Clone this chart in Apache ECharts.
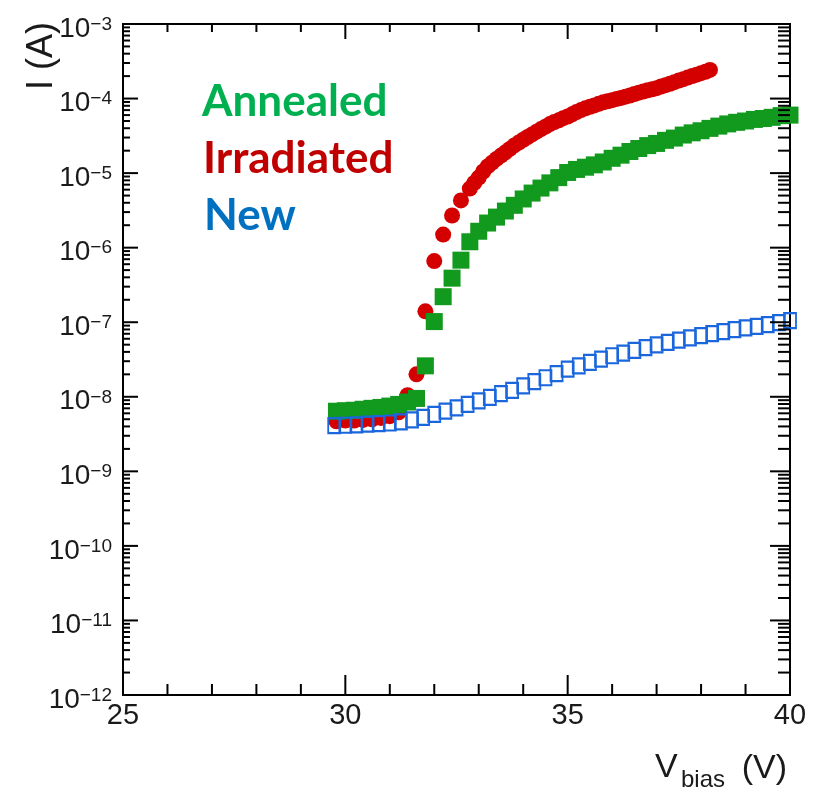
<!DOCTYPE html>
<html>
<head>
<meta charset="utf-8">
<script src="https://cdn.jsdelivr.net/npm/echarts@6/dist/echarts.min.js"></script>
<style>
  html, body { margin: 0; padding: 0; background: #fff; }
  #chart { width: 817px; height: 796px; }
</style>
</head>
<body>
<div id="chart"></div>
<script>
// Bias voltage (V) for the irradiated sweep: 0.2 V steps, then 0.1 V steps above breakdown
const vIrradiated = [29.8, 30.0, 30.2, 30.4, 30.6, 30.8, 31.0, 31.2, 31.4, 31.6, 31.8, 32.0, 32.2, 32.4, 32.6,
  32.8, 32.9, 33.0, 33.1, 33.2, 33.3, 33.4, 33.5, 33.6, 33.7, 33.8, 33.9, 34.0, 34.1, 34.2, 34.3,
  34.4, 34.5, 34.6, 34.7, 34.8, 34.9, 35.0, 35.1, 35.2, 35.3, 35.4, 35.5, 35.6, 35.7, 35.8, 35.9,
  36.0, 36.1, 36.2, 36.3, 36.4, 36.5, 36.6, 36.7, 36.8, 36.9, 37.0, 37.1, 37.2, 37.3, 37.4, 37.5,
  37.6, 37.7, 37.8, 37.9, 38.0, 38.1, 38.2];
// Leakage current (A), irradiated sensor
const iIrradiated = [4.7e-9, 4.8e-9, 4.8e-9, 4.9e-9, 5.0e-9, 5.2e-9, 5.5e-9, 6.2e-9, 1.05e-8, 2.0e-8, 1.4e-7, 6.6e-7, 1.5e-6, 2.7e-6, 4.3e-6,
  6.2e-6, 7.4e-6, 8.7e-6, 1.05e-5, 1.23e-5, 1.38e-5, 1.55e-5, 1.72e-5, 1.9e-5, 2.11e-5, 2.35e-5, 2.57e-5, 2.8e-5, 3.05e-5, 3.3e-5, 3.6e-5,
  3.9e-5, 4.2e-5, 4.55e-5, 4.85e-5, 5.1e-5, 5.45e-5, 5.75e-5, 6.15e-5, 6.6e-5, 7.0e-5, 7.4e-5, 7.75e-5, 8.1e-5, 8.5e-5, 8.9e-5, 9.2e-5,
  9.5e-5, 9.9e-5, 1.02e-4, 1.06e-4, 1.1e-4, 1.15e-4, 1.2e-4, 1.24e-4, 1.29e-4, 1.33e-4, 1.38e-4, 1.45e-4, 1.51e-4, 1.58e-4, 1.66e-4, 1.74e-4,
  1.82e-4, 1.91e-4, 2.0e-4, 2.09e-4, 2.19e-4, 2.29e-4, 2.42e-4];

const vAnnealed = [29.8, 30.0, 30.2, 30.4, 30.6, 30.8, 31.0, 31.2, 31.4, 31.6, 31.8, 32.0, 32.2, 32.4, 32.6, 32.8,
  33.0, 33.2, 33.4, 33.6, 33.8, 34.0, 34.2, 34.4, 34.6, 34.8, 35.0, 35.2, 35.4, 35.6, 35.8, 36.0,
  36.2, 36.4, 36.6, 36.8, 37.0, 37.2, 37.4, 37.6, 37.8, 38.0, 38.2, 38.4, 38.6, 38.8, 39.0, 39.2,
  39.4, 39.6, 39.8, 40.0];
// Leakage current (A), annealed sensor
const iAnnealed = [6.4e-9, 6.5e-9, 6.6e-9, 6.8e-9, 7.0e-9, 7.2e-9, 7.5e-9, 7.9e-9, 8.5e-9, 9.5e-9, 2.6e-8, 1.02e-7, 2.2e-7, 3.9e-7, 6.8e-7, 1.2e-6,
  1.66e-6, 2.14e-6, 2.57e-6, 3.1e-6, 3.7e-6, 4.5e-6, 5.4e-6, 6.3e-6, 7.4e-6, 8.7e-6, 1.02e-5, 1.12e-5, 1.2e-5, 1.29e-5, 1.41e-5, 1.58e-5,
  1.74e-5, 1.95e-5, 2.14e-5, 2.34e-5, 2.5e-5, 2.75e-5, 2.95e-5, 3.24e-5, 3.47e-5, 3.7e-5, 3.98e-5, 4.27e-5, 4.57e-5, 4.8e-5, 5.0e-5, 5.25e-5,
  5.4e-5, 5.6e-5, 5.9e-5, 6.0e-5];

const vNew = [29.75, 30.0, 30.25, 30.5, 30.75, 31.0, 31.25, 31.5, 31.75, 32.0, 32.25, 32.5, 32.75, 33.0,
  33.25, 33.5, 33.75, 34.0, 34.25, 34.5, 34.75, 35.0, 35.25, 35.5, 35.75, 36.0, 36.25, 36.5,
  36.75, 37.0, 37.25, 37.5, 37.75, 38.0, 38.25, 38.5, 38.75, 39.0, 39.25, 39.5, 39.75, 40.0];
// Leakage current (A), new sensor
const iNew = [4.1e-9, 4.15e-9, 4.2e-9, 4.3e-9, 4.35e-9, 4.45e-9, 4.6e-9, 4.9e-9, 5.3e-9, 5.8e-9, 6.4e-9, 7.1e-9, 7.9e-9, 8.8e-9,
  9.8e-9, 1.1e-8, 1.22e-8, 1.4e-8, 1.6e-8, 1.8e-8, 2.05e-8, 2.35e-8, 2.6e-8, 2.9e-8, 3.2e-8, 3.55e-8, 3.85e-8, 4.2e-8,
  4.55e-8, 4.95e-8, 5.35e-8, 5.75e-8, 6.15e-8, 6.6e-8, 7.05e-8, 7.5e-8, 7.95e-8, 8.4e-8, 8.8e-8, 9.3e-8, 9.9e-8, 1.05e-7];

// Axis ticks
const xMajorTicks = [25, 30, 35, 40];
const xMinorTicks = [26, 27, 28, 29, 31, 32, 33, 34, 36, 37, 38, 39];
const yDecades = [1e-12, 1e-11, 1e-10, 1e-9, 1e-8, 1e-7, 1e-6, 1e-5, 1e-4, 1e-3];
const yMinorSteps = [2, 3, 4, 5, 6, 7, 8, 9];

const seriesNames = ['Annealed', 'Irradiated', 'New'];

function zip(xs, ys) { return xs.map((x, i) => [x, ys[i]]); }

// Tick list: [x, y, axis (0 = x, 1 = y), major (1) / minor (0)]
const tickItems = [];
xMajorTicks.forEach(v => tickItems.push([v, 1e-12, 0, 1]));
xMinorTicks.forEach(v => tickItems.push([v, 1e-12, 0, 0]));
yDecades.forEach((d, k) => {
  tickItems.push([25, d, 1, 1]);
  if (k < yDecades.length - 1) yMinorSteps.forEach(m => tickItems.push([25, d * m, 1, 0]));
});

const chart = echarts.init(document.getElementById('chart'), null, { renderer: 'canvas' });
const FONT = 'Liberation Sans, Arial, sans-serif';
const LABEL_FONT = 'bold 44px Lato, "Open Sans", sans-serif';

chart.setOption({
  backgroundColor: '#ffffff',
  animation: false,
  grid: { left: 123, right: 27, top: 24, bottom: 101, show: true, borderColor: '#000', borderWidth: 2, backgroundColor: 'transparent' },
  xAxis: {
    type: 'value', min: 25, max: 40, interval: 5,
    axisLine: { show: false }, axisTick: { show: false }, splitLine: { show: false },
    axisLabel: { fontFamily: FONT, fontSize: 29, color: '#1a1a1a', margin: 6 }
  },
  yAxis: {
    type: 'log', logBase: 10, min: 1e-12, max: 1e-3, interval: 1,
    axisLine: { show: false }, axisTick: { show: false }, splitLine: { show: false },
    axisLabel: {
      margin: 11,
      padding: [10, 0, 0, 0],
      formatter: v => {
        const e = Math.round(Math.log10(v));
        return '{b|10}{s|\u2212' + Math.abs(e) + '}';
      },
      rich: {
        b: { fontFamily: FONT, fontSize: 28, color: '#1a1a1a', lineHeight: 28 },
        s: { fontFamily: FONT, fontSize: 19, color: '#1a1a1a', verticalAlign: 'top', lineHeight: 19 }
      }
    }
  },
  graphic: [
    { type: 'text', left: 202, top: 80, style: { text: seriesNames[0], font: LABEL_FONT, fill: '#00b050' } },
    { type: 'text', left: 203, top: 137, style: { text: seriesNames[1], font: LABEL_FONT, fill: '#c00000' } },
    { type: 'text', left: 204, top: 194, style: { text: seriesNames[2], font: LABEL_FONT, fill: '#0070c0' } },
    { type: 'text', x: 42, y: 56, rotation: Math.PI / 2, style: { text: 'I (A)', font: '36px ' + FONT, fill: '#1a1a1a', align: 'center', verticalAlign: 'middle' } },
    { type: 'text', x: 655, y: 768, style: { text: 'V', font: '34px ' + FONT, fill: '#1a1a1a', align: 'left', verticalAlign: 'middle' } },
    { type: 'text', x: 681, y: 780, style: { text: 'bias', font: '24px ' + FONT, fill: '#1a1a1a', align: 'left', verticalAlign: 'middle' } },
    { type: 'text', x: 787, y: 769, style: { text: '(V)', font: '34px ' + FONT, fill: '#1a1a1a', align: 'right', verticalAlign: 'middle' } }
  ],
  series: [
    {
      name: seriesNames[1], type: 'scatter', data: zip(vIrradiated, iIrradiated),
      symbol: 'circle', symbolSize: 16, itemStyle: { color: '#d40000', opacity: 1 }, z: 2
    },
    {
      name: seriesNames[0], type: 'scatter', data: zip(vAnnealed, iAnnealed),
      symbol: 'rect', symbolSize: 17, itemStyle: { color: '#119a1d', opacity: 1 }, z: 3
    },
    {
      name: seriesNames[2], type: 'scatter', data: zip(vNew, iNew),
      symbol: 'rect', symbolSize: [12, 15],
      itemStyle: { color: 'rgba(255,255,255,0)', borderColor: '#1a66dd', borderWidth: 2, opacity: 1 }, z: 4
    },
    {
      type: 'custom', data: tickItems, silent: true, clip: false, z: 10,
      renderItem: (params, api) => {
        const r = params.coordSys;
        const isY = api.value(2) === 1;
        const major = api.value(3) === 1;
        const lines = [];
        if (!isY) {
          const px = api.coord([api.value(0), 1e-12])[0];
          const lb = major ? 20 : 11, lt = major ? 15 : 8;
          lines.push([px, r.y + r.height, px, r.y + r.height - lb]);
          lines.push([px, r.y, px, r.y + lt]);
        } else {
          const py = api.coord([25, api.value(1)])[1];
          const ll = major ? 15 : 7, lr = major ? 20 : 12;
          lines.push([r.x, py, r.x + ll, py]);
          lines.push([r.x + r.width, py, r.x + r.width - lr, py]);
        }
        return {
          type: 'group',
          children: lines.map(l => ({
            type: 'line', shape: { x1: l[0], y1: l[1], x2: l[2], y2: l[3] },
            style: { stroke: '#000', lineWidth: 2 }
          }))
        };
      }
    }
  ]
});
</script>
</body>
</html>
